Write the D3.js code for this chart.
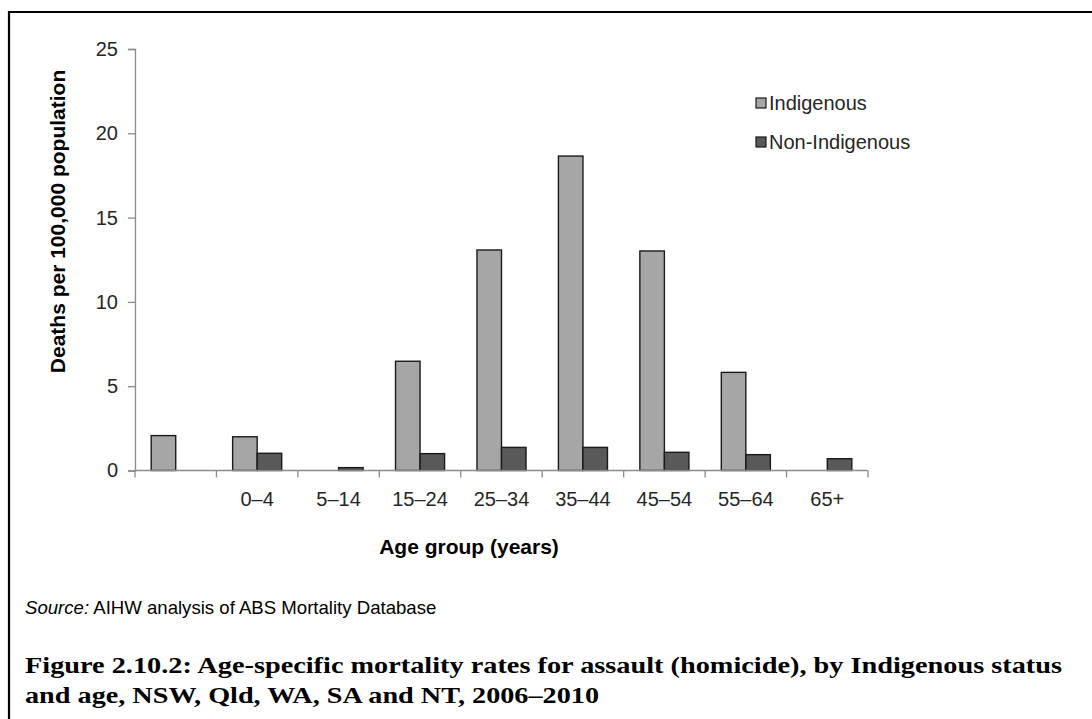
<!DOCTYPE html>
<html>
<head>
<meta charset="utf-8">
<script src="https://cdn.jsdelivr.net/npm/d3@7"></script>
<style>
  html, body { margin: 0; padding: 0; background: #fff; }
  svg { display: block; }
</style>
</head>
<body>
<svg id="chart" width="1092" height="719"></svg>
<script>
// Age groups (first group carries no label on the axis)
const categories = ["", "0–4", "5–14", "15–24", "25–34", "35–44", "45–54", "55–64", "65+"];
const seriesNames = ["Indigenous", "Non-Indigenous"];
// Deaths per 100,000 population; null = no bar
const indigenous    = [2.07, 2.0, null, 6.48, 13.08, 18.65, 13.02, 5.82, null];
const nonIndigenous = [null, 1.02, 0.17, 1.0, 1.37, 1.37, 1.08, 0.94, 0.70];
const yTicks = [0, 5, 10, 15, 20, 25];
const seriesColors = ["#a6a6a6", "#595959"];

const svg = d3.select("#chart");
const sans = "'Liberation Sans', Arial, sans-serif";
const textColor = "#262626";
const axisColor = "#8a8a8a";

// frame lines (top and left)
svg.append("path")
  .attr("d", "M9,719V12H1092")
  .attr("fill", "none").attr("stroke", "#000").attr("stroke-width", 2.2);

const plot = { left: 135, right: 868, top: 49, bottom: 470.5 };

const x = d3.scaleBand().domain(categories).range([plot.left, plot.right]).padding(0);
const x1 = d3.scaleBand().domain(seriesNames).range([0, x.bandwidth()])
  .paddingInner(0).paddingOuter(0.66);
const y = d3.scaleLinear().domain([0, 25]).range([plot.bottom, plot.top]);

// y axis
const yAxis = svg.append("g").attr("transform", `translate(${plot.left},0)`)
  .call(d3.axisLeft(y).tickValues(yTicks).tickSize(7).tickPadding(10));
yAxis.select(".domain").attr("stroke", axisColor).attr("stroke-width", 1.3);
yAxis.selectAll(".tick line").attr("stroke", axisColor).attr("stroke-width", 1.3);
yAxis.selectAll(".tick text").attr("fill", textColor)
  .style("font-family", sans).style("font-size", "20px");

// bars
const rows = categories.map((c, i) => ({ cat: c, values: [indigenous[i], nonIndigenous[i]] }));
const groups = svg.append("g").selectAll("g").data(rows).join("g")
  .attr("transform", d => `translate(${x(d.cat)},0)`);
groups.selectAll("rect")
  .data(d => d.values.map((v, j) => ({ name: seriesNames[j], v, j })).filter(e => e.v != null))
  .join("rect")
  .attr("x", e => x1(e.name))
  .attr("width", x1.bandwidth())
  .attr("y", e => y(e.v))
  .attr("height", e => y(0) - y(e.v))
  .attr("fill", e => seriesColors[e.j])
  .attr("stroke", "#1a1a1a").attr("stroke-width", 1.4);

// x axis with ticks at group boundaries
const xAxisG = svg.append("g").attr("transform", `translate(0,${plot.bottom})`);
const boundaries = categories.map(c => x(c)).concat([x.range()[1]]);
xAxisG.append("line")
  .attr("x1", plot.left).attr("x2", plot.right)
  .attr("stroke", axisColor).attr("stroke-width", 1.3);
xAxisG.selectAll("line.tk").data(boundaries).join("line").attr("class", "tk")
  .attr("x1", d => d).attr("x2", d => d).attr("y1", 0).attr("y2", 7)
  .attr("stroke", axisColor).attr("stroke-width", 1.3);
xAxisG.selectAll("text").data(categories).join("text")
  .attr("x", d => x(d) + x.bandwidth() / 2)
  .attr("y", 28)
  .attr("dy", "0.35em")
  .attr("text-anchor", "middle")
  .attr("fill", textColor)
  .style("font-family", sans).style("font-size", "20px")
  .text(d => d);

// axis titles
svg.append("text")
  .attr("transform", `translate(58,${(69 + 374) / 2}) rotate(-90)`)
  .attr("text-anchor", "middle").attr("dy", "0.35em")
  .attr("fill", "#000")
  .style("font-family", sans).style("font-size", "21px").style("font-weight", "bold")
  .text("Deaths per 100,000 population");

svg.append("text")
  .attr("x", 469).attr("y", 547).attr("dy", "0.35em")
  .attr("text-anchor", "middle").attr("fill", "#000")
  .style("font-family", sans).style("font-size", "21px").style("font-weight", "bold")
  .text("Age group (years)");

// legend
const legend = svg.append("g").attr("transform", "translate(756,103)");
const li = legend.selectAll("g").data(seriesNames).join("g")
  .attr("transform", (d, i) => `translate(0,${i * 39})`);
li.append("rect").attr("x", 0).attr("y", -5).attr("width", 10).attr("height", 10)
  .attr("fill", (d, i) => seriesColors[i]).attr("stroke", "#1a1a1a").attr("stroke-width", 1.2);
li.append("text").attr("x", 13).attr("dy", "0.35em")
  .attr("fill", textColor)
  .style("font-family", sans).style("font-size", "20px")
  .text(d => d);

// source note
const src = svg.append("text").attr("x", 25).attr("y", 607).attr("dy", "0.35em")
  .attr("fill", "#000").style("font-family", sans).style("font-size", "18.6px");
src.append("tspan").style("font-style", "italic").text("Source:");
src.append("tspan").text(" AIHW analysis of ABS Mortality Database");

// figure caption
const captionLines = [
  "Figure 2.10.2: Age-specific mortality rates for assault (homicide), by Indigenous status",
  "and age, NSW, Qld, WA, SA and NT, 2006–2010"
];
const capWidths = [1037, 574];
svg.selectAll("text.cap").data(captionLines).join("text").attr("class", "cap")
  .attr("x", 25).attr("y", (d, i) => 665 + i * 30).attr("dy", "0.35em")
  .attr("fill", "#000")
  .attr("textLength", (d, i) => capWidths[i]).attr("lengthAdjust", "spacingAndGlyphs")
  .style("font-family", "'Liberation Serif', 'Times New Roman', serif")
  .style("font-size", "23px").style("font-weight", "bold")
  .text(d => d);
</script>
</body>
</html>
